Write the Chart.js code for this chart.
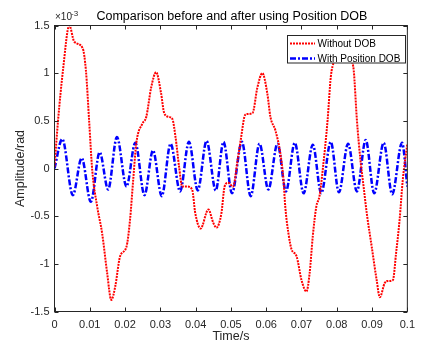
<!DOCTYPE html>
<html>
<head>
<meta charset="utf-8">
<script src="https://cdn.jsdelivr.net/npm/chart.js@4.4.1/dist/chart.umd.min.js"></script>
<style>
html,body{margin:0;padding:0;background:#fff;}
#wrap{width:422px;height:349px;position:relative;}
</style>
</head>
<body>
<div id="wrap"><canvas id="c" width="422" height="349"></canvas></div>
<script>
// ---- data (amplitude in units of 1e-3 rad) ----
const titleText = 'Comparison before and after using Position DOB';
const xAxisTitle = 'Time/s';
const yAxisTitle = 'Amplitude/rad';
const seriesNames = ['Without DOB', 'With Position DOB'];

const xTickValues = [0,0.01,0.02,0.03,0.04,0.05,0.06,0.07,0.08,0.09,0.1];
const xTickLabels = ['0','0.01','0.02','0.03','0.04','0.05','0.06','0.07','0.08','0.09','0.1'];
const yTickValues = [-1.5,-1,-0.5,0,0.5,1,1.5];
const yTickLabels = ['-1.5','-1','-0.5','0','0.5','1','1.5'];

const timeWithout = [0,0.0010,0.0024,0.0042,0.0056,0.0080,0.0089,0.0098,0.0107,0.0121,0.0135,0.0149,0.0161,0.0172,0.0186,0.0204,0.0214,0.0223,0.0232,0.0249,0.0260,0.0274,0.0288,0.0302,0.0311,0.0325,0.0334,0.0343,0.0353,0.0362,0.0376,0.0390,0.0399,0.0414,0.0436,0.0450,0.0459,0.0473,0.0482,0.0492,0.0506,0.0519,0.0529,0.0538,0.0543,0.0561,0.0575,0.0589,0.0603,0.0612,0.0626,0.0640,0.0649,0.0654,0.0663,0.0672,0.0686,0.0700,0.0714,0.0723,0.0732,0.0742,0.0751,0.0760,0.0774,0.0783,0.0792,0.0818,0.0843,0.0848,0.0857,0.0867,0.0876,0.0885,0.0899,0.0913,0.0922,0.0936,0.0945,0.0959,0.0968,0.0978,0.0987,0.1000];
const withoutDob = [0.02,0.50,1.03,1.50,1.33,1.26,1.03,0.51,-0.02,-0.40,-0.68,-1.09,-1.38,-1.24,-0.92,-0.82,-0.54,-0.12,0.27,0.47,0.54,0.85,1.01,0.79,0.58,0.54,0.52,0.33,0.02,-0.19,-0.19,-0.22,-0.47,-0.63,-0.43,-0.57,-0.62,-0.47,-0.19,-0.15,-0.19,0.09,0.33,0.54,0.57,0.58,0.85,1.00,0.79,0.54,0.40,0.16,-0.12,-0.40,-0.68,-0.85,-0.92,-1.17,-1.29,-1.10,-0.71,-0.40,-0.29,-0.02,0.51,0.96,1.12,1.25,1.12,1.03,0.51,0.09,-0.19,-0.47,-0.82,-1.17,-1.35,-1.20,-1.18,-1.17,-0.89,-0.54,-0.12,0.26];

const timeWith = [0,0.0022,0.0052,0.0077,0.0103,0.0128,0.0152,0.0177,0.0204,0.0229,0.0255,0.0279,0.0304,0.0329,0.0356,0.0381,0.0406,0.0431,0.0457,0.0479,0.0503,0.0531,0.0556,0.0581,0.0606,0.0632,0.0656,0.0681,0.0706,0.0732,0.0756,0.0783,0.0806,0.0832,0.0857,0.0882,0.0906,0.0933,0.0957,0.0985,0.1000];
const withDob = [0,0.31,-0.28,0.11,-0.35,0.17,-0.22,0.33,-0.19,0.27,-0.28,0.19,-0.29,0.26,-0.24,0.28,-0.23,0.29,-0.23,0.28,-0.26,0.28,-0.29,0.26,-0.22,0.26,-0.24,0.27,-0.26,0.25,-0.26,0.28,-0.25,0.26,-0.24,0.30,-0.26,0.27,-0.27,0.27,-0.19];

// ---- styling ----
const AX = '#262626';
const FONT = '"Liberation Sans", Arial, Helvetica, sans-serif';
const RED = '#ff0000';
const BLUE = '#0000ff';
const redDash = [2, 1];
const blueDash = [6, 2, 2, 2];

const toPts = (xs, ys) => xs.map((x, i) => ({x: x, y: ys[i]}));

const decor = {
  id: 'decor',
  afterDatasetsDraw(chart) {
    const ctx = chart.ctx;
    const a = chart.chartArea;
    const xs = chart.scales.x, ys = chart.scales.y;
    ctx.save();
    // box
    ctx.strokeStyle = AX;
    ctx.lineWidth = 1;
    ctx.strokeRect(a.left, a.top, a.right - a.left, a.bottom - a.top);
    // inward ticks on all sides
    const tl = 4;
    ctx.beginPath();
    xTickValues.forEach(v => {
      const px = Math.round(xs.getPixelForValue(v)) + 0.5;
      ctx.moveTo(px, a.bottom); ctx.lineTo(px, a.bottom - tl);
      ctx.moveTo(px, a.top); ctx.lineTo(px, a.top + tl);
    });
    yTickValues.forEach(v => {
      const py = Math.round(ys.getPixelForValue(v)) + 0.5;
      ctx.moveTo(a.left, py); ctx.lineTo(a.left + tl, py);
      ctx.moveTo(a.right, py); ctx.lineTo(a.right - tl, py);
    });
    ctx.stroke();

    // legend
    const lx = 287.5, ly = 35.5, lw = 118, lh = 27.5;
    ctx.fillStyle = '#ffffff';
    ctx.fillRect(lx, ly, lw, lh);
    ctx.strokeStyle = AX;
    ctx.strokeRect(lx, ly, lw, lh);
    const rows = [
      {y: 43.5, color: RED, dash: redDash, w: 2, name: seriesNames[0]},
      {y: 58.5, color: BLUE, dash: blueDash, w: 2.5, name: seriesNames[1]}
    ];
    rows.forEach(r => {
      ctx.save();
      ctx.strokeStyle = r.color;
      ctx.lineWidth = r.w;
      ctx.setLineDash(r.dash);
      ctx.beginPath();
      ctx.moveTo(290, r.y); ctx.lineTo(315, r.y);
      ctx.stroke();
      ctx.restore();
      ctx.fillStyle = '#000';
      ctx.font = '10px ' + FONT;
      ctx.textAlign = 'left';
      ctx.textBaseline = 'middle';
      ctx.fillText(r.name, 317.5, r.y + 0.5);
    });
    ctx.restore();
  },
  afterDraw(chart) {
    const ctx = chart.ctx;
    const a = chart.chartArea;
    ctx.save();
    ctx.fillStyle = '#000';
    // title
    ctx.font = '12.5px ' + FONT;
    ctx.textAlign = 'center';
    ctx.textBaseline = 'alphabetic';
    ctx.fillText(titleText, (a.left + a.right) / 2 + 1, 19.5);
    // x title
    ctx.fillStyle = AX;
    ctx.fillText(xAxisTitle, (a.left + a.right) / 2, 340);
    // y title
    ctx.save();
    ctx.translate(24, (a.top + a.bottom) / 2);
    ctx.rotate(-Math.PI / 2);
    ctx.textAlign = 'center';
    ctx.fillText(yAxisTitle, 0, 0);
    ctx.restore();
    // exponent
    ctx.textAlign = 'left';
    ctx.fillStyle = AX;
    ctx.font = '10px ' + FONT;
    ctx.fillText('\u00d710', 55, 20);
    ctx.font = '8px ' + FONT;
    ctx.fillText('-3', 71, 16);
    ctx.restore();
  }
};

new Chart(document.getElementById('c'), {
  type: 'line',
  data: {
    datasets: [
      {
        label: seriesNames[0],
        data: toPts(timeWithout, withoutDob),
        borderColor: RED,
        borderWidth: 2,
        borderDash: redDash,
        pointRadius: 0,
        cubicInterpolationMode: 'monotone',
        fill: false
      },
      {
        label: seriesNames[1],
        data: toPts(timeWith, withDob),
        borderColor: BLUE,
        borderWidth: 2.5,
        borderDash: blueDash,
        pointRadius: 0,
        cubicInterpolationMode: 'monotone',
        fill: false
      }
    ]
  },
  options: {
    responsive: false,
    animation: false,
    events: [],
    layout: { padding: { top: 25.5, right: 6.5, left: 0, bottom: 0 } },
    plugins: { legend: { display: false }, title: { display: false }, tooltip: { enabled: false } },
    scales: {
      x: {
        type: 'linear',
        min: 0, max: 0.1,
        grid: { display: false, drawTicks: false },
        border: { display: false },
        afterBuildTicks: s => { s.ticks = xTickValues.map(v => ({value: v})); },
        afterFit: s => { s.height = 37.5; },
        ticks: {
          autoSkip: false, maxRotation: 0, padding: 7,
          color: AX, font: { family: FONT, size: 11 },
          callback: (v, i) => xTickLabels[i]
        }
      },
      y: {
        type: 'linear',
        min: -1.5, max: 1.5,
        grid: { display: false, drawTicks: false },
        border: { display: false },
        afterBuildTicks: s => { s.ticks = yTickValues.map(v => ({value: v})); },
        afterFit: s => { s.width = 54.5; },
        ticks: {
          autoSkip: false, padding: 5,
          color: AX, font: { family: FONT, size: 11 },
          callback: (v, i) => yTickLabels[i]
        }
      }
    }
  },
  plugins: [decor]
});
</script>
</body>
</html>
